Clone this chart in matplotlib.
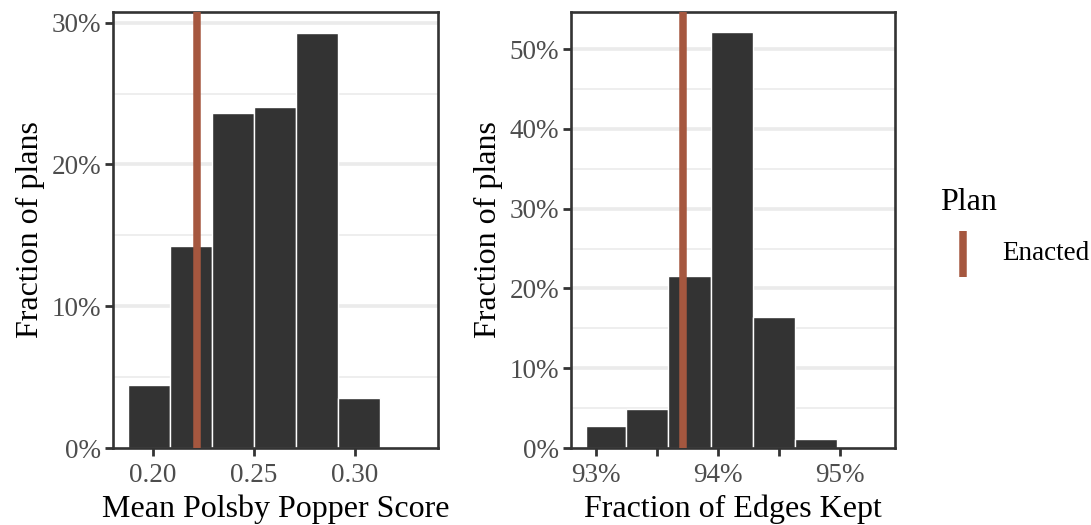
import matplotlib
matplotlib.use("Agg")
import matplotlib.pyplot as plt
from matplotlib.ticker import PercentFormatter
from matplotlib.lines import Line2D

# histogram data
pp_edges = [0.1878, 0.2085, 0.2292, 0.2500, 0.2707, 0.2915, 0.3122]
pp_frac = [0.0446, 0.1426, 0.2360, 0.2407, 0.2930, 0.0352]
pp_enacted = 0.2220

edge_edges = [0.92916, 0.93246, 0.93593, 0.93943, 0.94289, 0.94631, 0.94978]
edge_frac = [0.0270, 0.0483, 0.2160, 0.5210, 0.1645, 0.0116]
edge_enacted = 0.93716

bar_col = "#333333"
line_col = "#A5573F"
grid_col = "#EBEBEB"
tick_col = "#4D4D4D"

plt.rcParams['font.family'] = ['Liberation Serif', 'DejaVu Serif']

fig = plt.figure(figsize=(10.91, 5.25), dpi=100)
W, H = 1091, 525


def panel(x0, x1, y0, y1):
    return fig.add_axes([x0 / W, 1 - y1 / H, (x1 - x0) / W, (y1 - y0) / H])


def style(ax):
    for s in ax.spines.values():
        s.set_color("#333333")
        s.set_linewidth(1.9)
    ax.tick_params(axis='both', colors="#333333", labelcolor=tick_col,
                   labelsize=19.5, length=5.5, width=2.0)
    ax.tick_params(axis='x', pad=5)
    ax.tick_params(axis='y', pad=3)
    ax.set_axisbelow(True)


# left panel
ax1 = panel(113, 438, 12, 448)
widths = [b - a for a, b in zip(pp_edges[:-1], pp_edges[1:])]
ax1.bar(pp_edges[:-1], pp_frac, width=widths, align='edge',
        color=bar_col, edgecolor="white", linewidth=1.0, zorder=2)
ax1.axvline(pp_enacted, color=line_col, linewidth=5.4, zorder=3)
ax1.set_xlim(0.1803, 0.341)
ax1.set_ylim(0, 0.3075)
ax1.set_xticks([0.20, 0.25, 0.30])
ax1.set_xticklabels(["0.20", "0.25", "0.30"])
ax1.set_yticks([0, 0.1, 0.2, 0.3])
ax1.yaxis.set_major_formatter(PercentFormatter(1, decimals=0))
for v in [0.1, 0.2, 0.3]:
    ax1.axhline(v, color=grid_col, linewidth=2.6, zorder=0)
for v in [0.05, 0.15, 0.25]:
    ax1.axhline(v, color=grid_col, linewidth=1.2, zorder=0)
ax1.set_xlabel("Mean Polsby Popper Score", fontsize=23, labelpad=5)
ax1.set_ylabel("Fraction of plans", fontsize=23, labelpad=5)
style(ax1)

# right panel
ax2 = panel(571, 895, 12, 448)
widths = [b - a for a, b in zip(edge_edges[:-1], edge_edges[1:])]
ax2.bar(edge_edges[:-1], edge_frac, width=widths, align='edge',
        color=bar_col, edgecolor="white", linewidth=1.0, zorder=2)
ax2.axvline(edge_enacted, color=line_col, linewidth=5.4, zorder=3)
ax2.set_xlim(0.92795, 0.95451)
ax2.set_ylim(0, 0.5466)
ax2.set_xticks([0.93, 0.935, 0.94, 0.945, 0.95])
ax2.set_xticklabels(["93%", "", "94%", "", "95%"])
ax2.set_yticks([0, 0.1, 0.2, 0.3, 0.4, 0.5])
ax2.yaxis.set_major_formatter(PercentFormatter(1, decimals=0))
for v in [0.1, 0.2, 0.3, 0.4, 0.5]:
    ax2.axhline(v, color=grid_col, linewidth=2.6, zorder=0)
for v in [0.05, 0.15, 0.25, 0.35, 0.45]:
    ax2.axhline(v, color=grid_col, linewidth=1.2, zorder=0)
ax2.set_xlabel("Fraction of Edges Kept", fontsize=23, labelpad=5)
ax2.set_ylabel("Fraction of plans", fontsize=23, labelpad=5)
style(ax2)

# legend
fig.text(940 / W, 1 - 202 / H, "Plan", fontsize=23, va='center', ha='left')
fig.add_artist(Line2D([963 / W, 963 / W], [1 - 231 / H, 1 - 277 / H],
                      color=line_col, linewidth=5.4, solid_capstyle='butt'))
fig.text(1002 / W, 1 - 254 / H, "Enacted", fontsize=19.5, va='center', ha='left')

fig.savefig("out.png", dpi=100)
